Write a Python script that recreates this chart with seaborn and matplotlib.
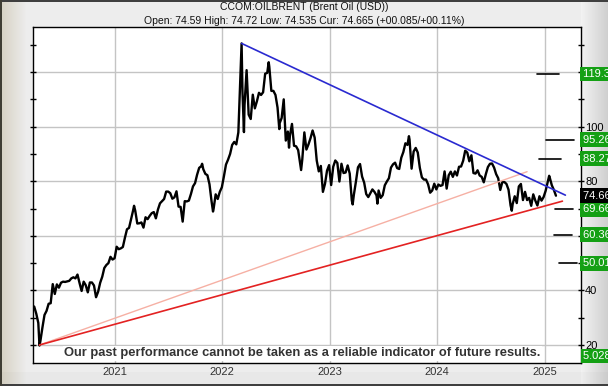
import numpy as np
import pandas as pd
import matplotlib
matplotlib.use('Agg')
import matplotlib.pyplot as plt
import matplotlib.dates as mdates
from matplotlib import font_manager as fm
from matplotlib.ticker import MultipleLocator, FixedLocator, FixedFormatter
import seaborn as sns

# Brent, weekly closes (Fridays), starting 2020-04-03
week_start = '2020-04-03'
close = [
    # 2020
    34.1, 31.5, 28.1, 21.4,
    26.4, 31.0, 32.5, 35.1, 35.3,
    42.3, 38.7, 42.2, 41.0,
    42.8, 43.2, 43.1, 43.3, 43.5,
    44.4, 44.8, 44.4, 45.8,
    42.7, 39.8, 43.2, 41.9,
    39.3, 42.9, 42.9, 41.8, 37.5,
    39.5, 42.8, 45.0, 48.2,
    49.3, 50.0, 52.3, 51.3,
    # 2021
    51.8, 56.0, 55.1, 55.4, 55.9,
    59.3, 62.4, 62.9, 66.1,
    69.4, 69.2, 64.5, 64.6,
    64.9, 63.0, 66.8, 66.1, 67.3,
    68.3, 68.7, 66.4, 69.6,
    71.9, 72.7, 73.5, 76.2,
    76.2, 75.6, 73.6, 74.1, 76.3,
    70.7, 70.6, 65.2, 72.7,
    72.6, 72.9, 75.3, 78.1,
    79.3, 82.4, 84.9, 85.5, 84.4,
    82.7, 82.2, 78.9, 72.7,
    69.9, 75.2, 73.5, 76.1, 77.8,
    # 2022
    81.8, 86.1, 87.9, 90.0,
    93.3, 94.4, 93.5, 97.9,
    118.1, 112.7, 107.9, 120.7,
    104.4, 102.8, 111.7, 106.7, 109.3,
    112.4, 111.6, 112.6, 119.4,
    119.7, 122.0, 113.1, 113.1,
    111.6, 107.0, 101.2, 103.2, 110.0,
    94.9, 98.2, 96.7, 101.0,
    93.0, 92.8, 91.4, 86.2, 88.0,
    97.9, 91.6, 93.5, 95.8,
    98.6, 96.0, 87.6, 83.6,
    85.6, 76.1, 79.0, 83.9, 85.9,
    # 2023
    78.6, 85.3, 87.6, 86.7,
    79.9, 86.4, 83.0, 83.2,
    85.8, 82.8, 73.0, 75.0, 79.8,
    85.1, 86.3, 81.7, 79.5,
    75.3, 74.2, 75.6, 77.0,
    76.1, 74.8, 76.6, 73.9, 74.9,
    78.5, 79.9, 81.1, 85.0,
    86.2, 86.8, 84.8, 84.5,
    88.6, 90.7, 93.9, 93.3, 95.3,
    84.6, 90.9, 92.2, 90.5,
    84.9, 81.4, 80.6, 80.6,
    78.9, 75.8, 76.6, 79.1, 77.0,
    # 2024
    78.8, 78.3, 78.6, 83.6,
    77.3, 82.2, 83.5, 81.6,
    83.6, 82.1, 85.3, 85.4, 87.5,
    91.2, 90.5, 87.3, 89.5,
    83.0, 82.8, 84.0, 82.1, 81.6,
    79.6, 82.6, 85.2, 86.4,
    86.5, 85.0, 82.6, 81.1,
    76.8, 79.7, 79.7, 79.0, 76.9,
    71.1, 71.6, 74.5, 72.0,
    78.1, 79.0, 73.1, 76.1,
    73.1, 73.9, 71.0, 75.2, 72.9,
    71.1, 74.5, 72.9, 74.2,
    # 2025
    76.5, 79.8, 81.3, 78.5, 76.8, 74.7,
]

# daily extremes the weekly points miss
spike_dates = ['2020-04-21', '2021-03-08', '2021-10-25', '2021-12-01', '2022-03-08',
               '2022-03-16', '2022-06-08', '2022-07-14', '2022-08-16', '2022-09-26',
               '2023-03-20', '2023-06-12', '2023-09-27', '2024-09-10', '2025-01-15']
spike_vals = [19.8, 71.0, 86.4, 68.9, 130.5,
              98.0, 123.6, 99.1, 92.3, 84.1,
              71.5, 71.8, 96.5, 69.2, 82.0]

# trend lines
blue_dates = ['2022-03-08', '2025-03-11']
blue_vals = [130.5, 74.9]
red_dates = ['2020-04-21', '2025-03-01']
red_vals = [20.0, 72.7]
pink_dates = ['2020-04-21', '2024-11-01']
pink_vals = [20.0, 83.5]

# target markers on the right
target_levels = [119.3, 95.26, 88.27, 69.66, 60.36, 50.01]
target_from = ['2024-12-06', '2025-01-04', '2024-12-13', '2025-02-04', '2025-02-02', '2025-02-18']
target_to = ['2025-02-18', '2025-04-08', '2025-02-23', '2025-04-07', '2025-04-01', '2025-04-20']

label_vals = [119.3, 95.26, 88.27, 69.66, 60.36, 50.01]
label_text = ['119.3', '95.26', '88.27', '69.66', '60.36', '50.01']
current_price = 74.66
bottom_label = '5.028'

ytick_vals = [20, 40, 60, 80, 100, 120]
ytick_labels = ['20', '40', '', '80', '100', '']

df = pd.DataFrame({'date': pd.date_range(week_start, periods=len(close), freq='W-FRI'),
                   'price': close})
extra = pd.DataFrame({'date': pd.to_datetime(spike_dates), 'price': spike_vals})
df = pd.concat([df, extra]).sort_values('date').reset_index(drop=True)

sns.set_style('white')
plt.rcParams['font.family'] = ['Liberation Sans', 'DejaVu Sans']

# pick a narrow bold face for the disclaimer if one is installed
installed = {f.name for f in fm.fontManager.ttflist}
narrow = [n for n in ['Liberation Sans Narrow', 'Arial Narrow', 'DejaVu Sans Condensed']
          if n in installed]
if narrow:
    disc_family, disc_size = [narrow[0], 'DejaVu Sans'], 10.5
else:
    disc_family, disc_size = ['Liberation Sans', 'DejaVu Sans'], 9.3

fig = plt.figure(figsize=(6.08, 3.86), dpi=100)

# bevelled background frame
H, W = 386, 608
xs = np.arange(W)
t = np.clip(xs / 26.0, 0, 1)
beige = np.array([0.84, 0.82, 0.76])
base = np.array([0.93, 0.93, 0.93])
bg = beige[None, None, :] * (1 - t)[None, :, None] + base[None, None, :] * t[None, :, None]
bg = np.repeat(bg, H, axis=0)
col = np.clip((xs - 581) / 27.0, 0, 1)
right_mask = xs >= 581
for c in range(3):
    bg[:, right_mask, c] = (0.95 - 0.14 * col[right_mask])[None, :]
bg[372:384, :, :] = bg[372:384, :, :] * 0.98
bg[:2, :, :] = 0.25
bg[-2:, :, :] = 0.25
bg[:, :2, :] = [0.25, 0.24, 0.2]
bgax = fig.add_axes([0, 0, 1, 1], zorder=-10)
bgax.imshow(bg, aspect='auto', interpolation='nearest')
bgax.axis('off')

ax = fig.add_axes([33 / 608, 1 - 363 / 386, 548 / 608, 335.7 / 386])
ax.set_facecolor('white')

sns.lineplot(data=df, x='date', y='price', ax=ax, color='black', lw=1.7,
             estimator=None, sort=True)
sns.lineplot(x=pd.to_datetime(pink_dates), y=pink_vals, ax=ax, color='#f6b0a4', lw=1.0)
sns.lineplot(x=pd.to_datetime(red_dates), y=red_vals, ax=ax, color='#e32222', lw=1.2)
sns.lineplot(x=pd.to_datetime(blue_dates), y=blue_vals, ax=ax, color='#2a2ad0', lw=1.2)

for lv, a, b in zip(target_levels, target_from, target_to):
    ax.plot(pd.to_datetime([a, b]), [lv, lv], color='black', lw=1.2)

ax.set_xlim(pd.Timestamp('2020-03-30'), pd.Timestamp('2025-05-03'))
ax.set_ylim(13.4, 136.4)

ax.xaxis.set_major_locator(mdates.YearLocator())
ax.xaxis.set_major_formatter(mdates.DateFormatter('%Y'))
ax.yaxis.set_major_locator(FixedLocator(ytick_vals))
ax.yaxis.set_major_formatter(FixedFormatter(ytick_labels))
ax.yaxis.set_minor_locator(MultipleLocator(10))
ax.yaxis.tick_right()
ax.tick_params(axis='y', which='both', left=True, right=True, direction='inout',
               length=4, width=1, color='black', labelsize=8, pad=1, labelcolor='black')
ax.tick_params(axis='x', length=0, labelsize=8, pad=3, labelcolor='#333333')
ax.grid(True, which='major', color='#c4c4c4', lw=1)
ax.set_axisbelow(True)
ax.set_xlabel('')
ax.set_ylabel('')
for s in ax.spines.values():
    s.set_color('black')
    s.set_linewidth(1)

trans = ax.get_yaxis_transform()
for v, txt in zip(label_vals, label_text):
    ax.text(1.003, v, txt + '   ', transform=trans, color='white', fontsize=8,
            va='center', ha='left', clip_on=False, zorder=10,
            bbox=dict(boxstyle='square,pad=0.22', fc='#14a014', ec='none'))
ax.text(1.003, current_price, f'{current_price:.2f}   ', transform=trans, color='white',
        fontsize=8, va='center', ha='left', clip_on=False, zorder=10,
        bbox=dict(boxstyle='square,pad=0.22', fc='black', ec='none'))
ax.text(1.003, 0.021, bottom_label + '   ', transform=ax.transAxes, color='white',
        fontsize=8, va='center', ha='left', clip_on=False, zorder=10,
        bbox=dict(boxstyle='square,pad=0.15', fc='#14a014', ec='none'))

ax.text(0.491, 0.029, 'Our past performance cannot be taken as a reliable indicator of future results.',
        transform=ax.transAxes, ha='center', va='center', fontsize=disc_size, fontweight='bold',
        color='#333333', family=disc_family, zorder=5,
        bbox=dict(boxstyle='square,pad=0.1', fc='white', ec='none'))

fig.text(0.5, 1 - 7.5 / 386, 'CCOM:OILBRENT (Brent Oil (USD))', ha='center', va='center',
         fontsize=7.5, color='#111111')
fig.text(0.5, 1 - 20.5 / 386,
         'Open: 74.59 High: 74.72 Low: 74.535 Cur: 74.665 (+00.085/+00.11%)',
         ha='center', va='center', fontsize=7.5, color='#111111')

fig.savefig('out.png', dpi=100)
